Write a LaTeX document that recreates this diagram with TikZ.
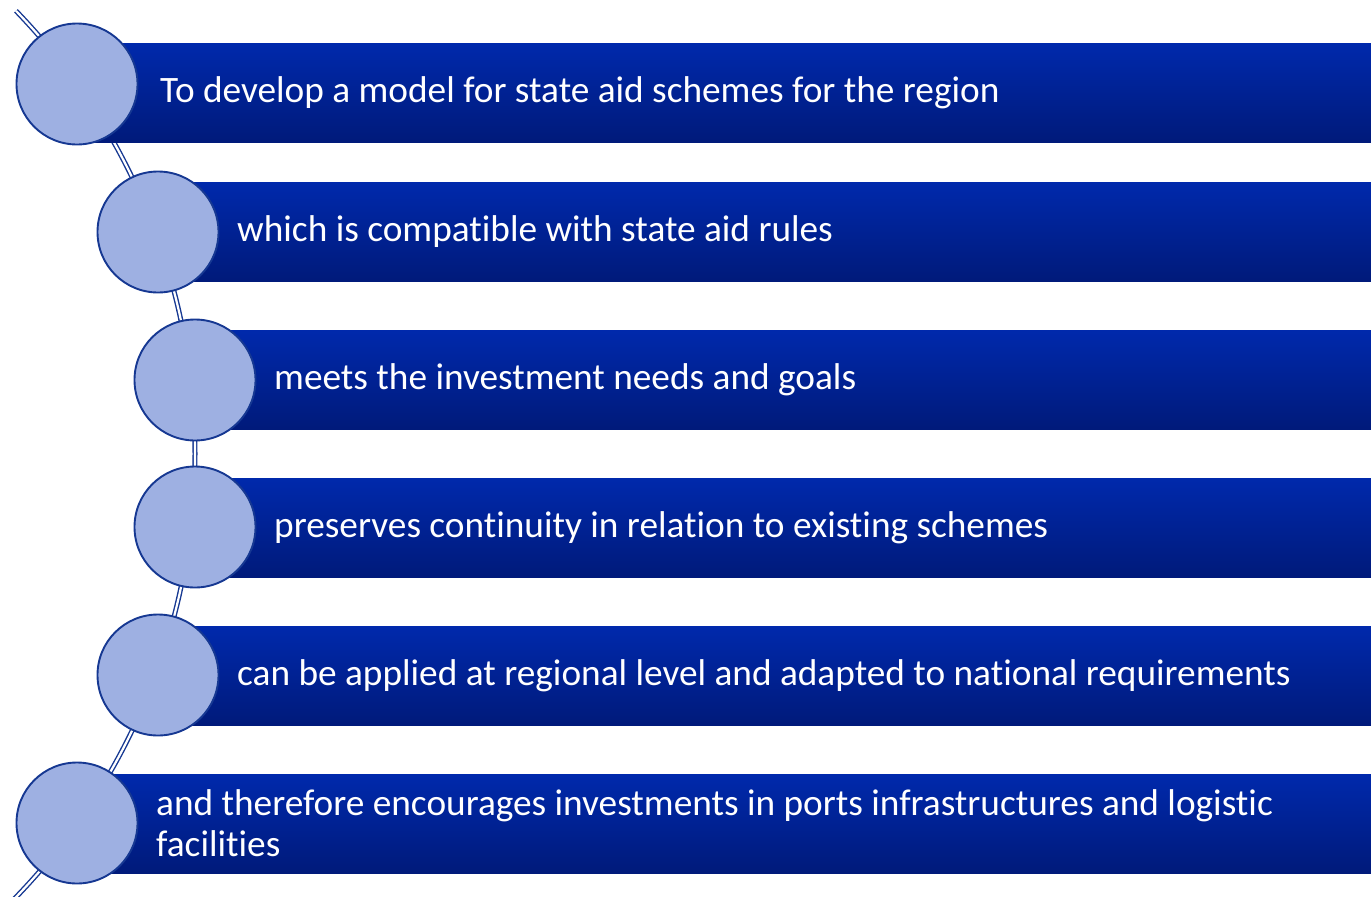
\documentclass[tikz,border=0pt]{standalone}
\usepackage{xcolor}
\usepackage{fontspec}
\setmainfont{Carlito}[Ligatures=NoCommon]
\usepackage{tikz}
\usetikzlibrary{positioning}
\usetikzlibrary{calc}

\begin{document}
\begin{tikzpicture}
    [%%%%%%%%%%%%%%%%%%%%%%%%%%%%%%
        x=1pt,y=-1pt,
        bar/.style={rectangle,draw=none,inner sep=0pt,minimum height=99pt,top color=bartop,bottom color=barbottom},
        dot/.style={circle,fill=dotfill,draw=dotline,line width=1.9pt,minimum size=121pt,inner sep=0pt},
        spine/.style={draw=dotline,line width=1.4pt,double=white,double distance=2.2pt},
        caption/.style={anchor=west,align=left,inner sep=0pt,text=white,font=\fontsize{37.3}{41}\selectfont}
    ]%%%%%%%%%%%%%%%%%%%%%%%%%%%%%%
\definecolor{bartop}{RGB}{0,41,172}
\definecolor{barbottom}{RGB}{0,26,122}
\definecolor{dotfill}{RGB}{158,176,226}
\definecolor{dotline}{RGB}{22,56,146}

\useasboundingbox (0,0) rectangle (1371,897);
\clip (0,0) rectangle (1371,897);

% curved spine behind the circles
\coordinate (hub) at (-443,454);
\draw [spine] ($(hub)+(-44:638)$) arc [start angle=-44, end angle=46, radius=638];

\foreach \i/\cx/\cy/\by/\tx/\txt in {
    1/77/84/92.5/160/{To develop a model for state aid schemes for the region},
    2/158/232/231.5/237/{which is compatible with state aid rules},
    3/195/380/379.5/274/{meets the investment needs and goals},
    4/195/527/527.5/274/{preserves continuity in relation to existing schemes},
    5/158/675/675.5/237/{can be applied at regional level and adapted to national requirements},
    6/77/823/823.5/156/{and therefore encourages investments in ports infrastructures and logistic\\facilities}}{
    \pgfmathsetmacro{\w}{1371-\cx}
    \node[bar,minimum width=\w pt,anchor=west] (b\i) at (\cx,\by) {};
    \node[dot] (c\i) at (\cx,\cy) {};
    \node[caption] (t\i) at (\tx,\by) {\txt};
}

\end{tikzpicture}
\end{document}
